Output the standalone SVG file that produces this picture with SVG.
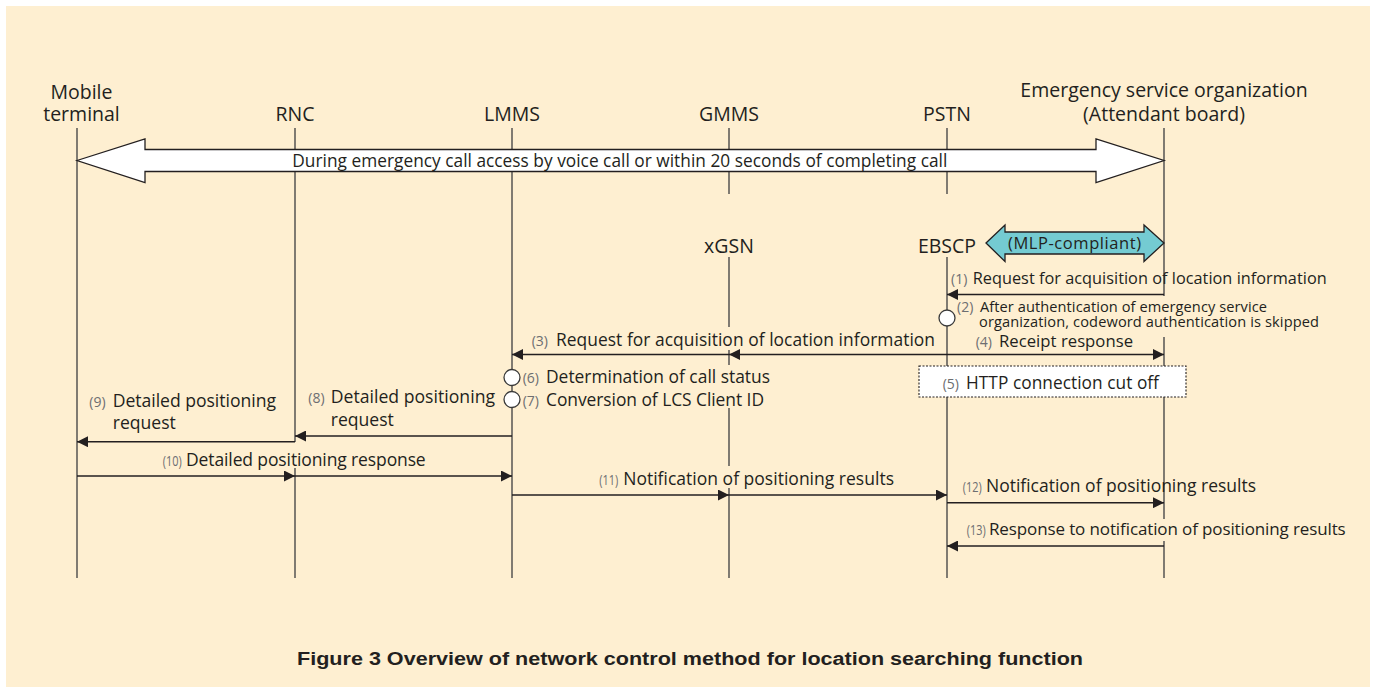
<svg xmlns="http://www.w3.org/2000/svg" width="1376" height="693" viewBox="0 0 1376 693">
<defs>
<style>
.t{font-family:"Open Sans","Liberation Sans",sans-serif;fill:#231f20}
.h{font-size:19.5px;text-anchor:middle}
.n{font-family:"Open Sans","Liberation Sans",sans-serif;fill:#6d6e71;font-size:14px}
.life{fill:none;stroke:#4a4a4a;stroke-width:1.4}
.msg{fill:none;stroke:#231f20;stroke-width:1.4;marker-end:url(#ah)}
.act{fill:#fff;stroke:#3a3a3a;stroke-width:1.3}
.cap{font-family:"Liberation Sans",Arial,sans-serif;font-weight:bold;fill:#231f20;font-size:18px}
</style>
<marker id="ah" markerWidth="11" markerHeight="11" refX="11" refY="5.5" orient="auto" markerUnits="userSpaceOnUse">
<path d="M0,0 L11,5.5 L0,11 z" fill="#231f20"/>
</marker>
</defs>
<rect x="0" y="0" width="1376" height="693" fill="#ffffff"/>
<rect x="6" y="6" width="1364" height="681" fill="#feefd1"/>

<g id="mobile-terminal">
<path class="life" d="M77,128 V578"/>
<text class="t h" x="81.5" y="98.5">Mobile</text>
<text class="t h" x="81.5" y="121">terminal</text>
</g>
<g id="rnc">
<path class="life" d="M295,128 V442 M295,468 V578"/>
<text class="t h" x="295" y="121">RNC</text>
</g>
<g id="lmms">
<path class="life" d="M512,128 V578"/>
<text class="t h" x="512" y="121">LMMS</text>
</g>
<g id="gmms">
<path class="life" d="M729,128 V194"/>
<text class="t h" x="729" y="121">GMMS</text>
</g>
<g id="xgsn">
<path class="life" d="M729,257 V327 M729,350 V365 M729,408 V466 M729,488 V578"/>
<text class="t h" x="729" y="252.5">xGSN</text>
</g>
<g id="pstn">
<path class="life" d="M947,128 V194"/>
<text class="t h" x="947" y="121">PSTN</text>
</g>
<g id="ebscp">
<path class="life" d="M947,257 V578"/>
<text class="t h" x="947" y="252.5">EBSCP</text>
</g>
<g id="emergency-service-organization">
<path class="life" d="M1164,128 V296 M1164,337 V519 M1164,541 V578"/>
<text class="t h" x="1164" y="97">Emergency service organization</text>
<text class="t h" x="1164" y="121">(Attendant board)</text>
</g>

<g id="emergency-period">
<polygon points="77,160.5 145,139 145,149.5 1096,149.5 1096,139 1164,160.5 1096,182.5 1096,171.5 145,171.5 145,182.5" fill="#ffffff" stroke="#231f20" stroke-width="1.3"/>
<text class="t" x="292.3" y="167" font-size="17.3px" textLength="655">During emergency call access by voice call or within 20 seconds of completing call</text>
</g>

<g id="mlp-compliant">
<polygon points="986,243 1005,225 1005,232 1144,232 1144,225 1164,243 1144,261.5 1144,254 1005,254 1005,261.5" fill="#74cbd2" stroke="#231f20" stroke-width="1.3"/>
<text class="t" x="1008" y="249.3" font-size="16.5px" textLength="133">(MLP-compliant)</text>
</g>

<g id="step2-activity">
<circle class="act" cx="947" cy="318" r="8"/>
</g>
<g id="step5-box">
<rect x="919" y="366" width="267" height="31" fill="#ffffff" stroke="#231f20" stroke-width="1.1" stroke-dasharray="2 1.5"/>
<text class="n" x="942.7" y="389">(5)</text>
<text class="t" x="966" y="389" font-size="17.3px" textLength="193">HTTP connection cut off</text>
</g>
<g id="step6-7-activity">
<circle class="act" cx="512" cy="377.5" r="8"/>
<circle class="act" cx="512" cy="399.5" r="8"/>
</g>

<g id="connectors">
<path class="msg" d="M1164,294.5 H947"/>
<path class="msg" d="M947,354.5 H729"/>
<path class="msg" d="M729,354.5 H512"/>
<path class="msg" d="M947,354.5 H1164"/>
<path class="msg" d="M512,436 H295"/>
<path class="msg" d="M295,441.7 H77"/>
<path class="msg" d="M77,476 H295"/>
<path class="msg" d="M295,476 H512"/>
<path class="msg" d="M512,495 H729"/>
<path class="msg" d="M729,495 H947"/>
<path class="msg" d="M947,502.7 H1164"/>
<path class="msg" d="M1164,546 H947"/>
</g>

<g id="labels">
<text class="n" x="951" y="284">(1)</text>
<text class="t" x="972.7" y="284" font-size="16.3px" textLength="354">Request for acquisition of location information</text>

<text class="n" x="957" y="311.7">(2)</text>
<text class="t" x="980" y="311.7" font-size="14.6px" textLength="287">After authentication of emergency service</text>
<text class="t" x="979" y="327" font-size="14.6px" textLength="340">organization, codeword authentication is skipped</text>

<text class="n" x="531.7" y="346">(3)</text>
<text class="t" x="556" y="346" font-size="17.4px" textLength="379">Request for acquisition of location information</text>

<text class="n" x="975.7" y="346.7">(4)</text>
<text class="t" x="999" y="346.7" font-size="16.7px" textLength="134">Receipt response</text>

<text class="n" x="522.7" y="382.7">(6)</text>
<text class="t" x="546" y="382.7" font-size="17.4px" textLength="224">Determination of call status</text>

<text class="n" x="522.7" y="405.7">(7)</text>
<text class="t" x="546" y="405.7" font-size="17.4px" textLength="218">Conversion of LCS Client ID</text>

<text class="n" x="308.3" y="403.3">(8)</text>
<text class="t" x="330.7" y="403.3" font-size="17.6px" textLength="164.3">Detailed positioning</text>
<text class="t" x="330.7" y="425.7" font-size="17.6px">request</text>

<text class="n" x="89.3" y="406.7">(9)</text>
<text class="t" x="112.7" y="406.7" font-size="17.6px" textLength="163.3">Detailed positioning</text>
<text class="t" x="112.7" y="429.3" font-size="17.6px">request</text>

<text class="n" x="162.7" y="466" textLength="19" lengthAdjust="spacingAndGlyphs">(10)</text>
<text class="t" x="186" y="466" font-size="17.5px" textLength="239.7">Detailed positioning response</text>

<text class="n" x="599.3" y="485" textLength="19" lengthAdjust="spacingAndGlyphs">(11)</text>
<text class="t" x="623.2" y="485" font-size="17.5px" textLength="270.8">Notification of positioning results</text>

<text class="n" x="962.7" y="491.7" textLength="19" lengthAdjust="spacingAndGlyphs">(12)</text>
<text class="t" x="986" y="491.7" font-size="17.5px" textLength="270">Notification of positioning results</text>

<text class="n" x="966.7" y="535" textLength="19" lengthAdjust="spacingAndGlyphs">(13)</text>
<text class="t" x="989" y="535" font-size="17px" textLength="356.7">Response to notification of positioning results</text>
</g>

<text class="cap" x="297" y="665" textLength="786" lengthAdjust="spacingAndGlyphs">Figure 3  Overview of network control method for location searching function</text>
</svg>
